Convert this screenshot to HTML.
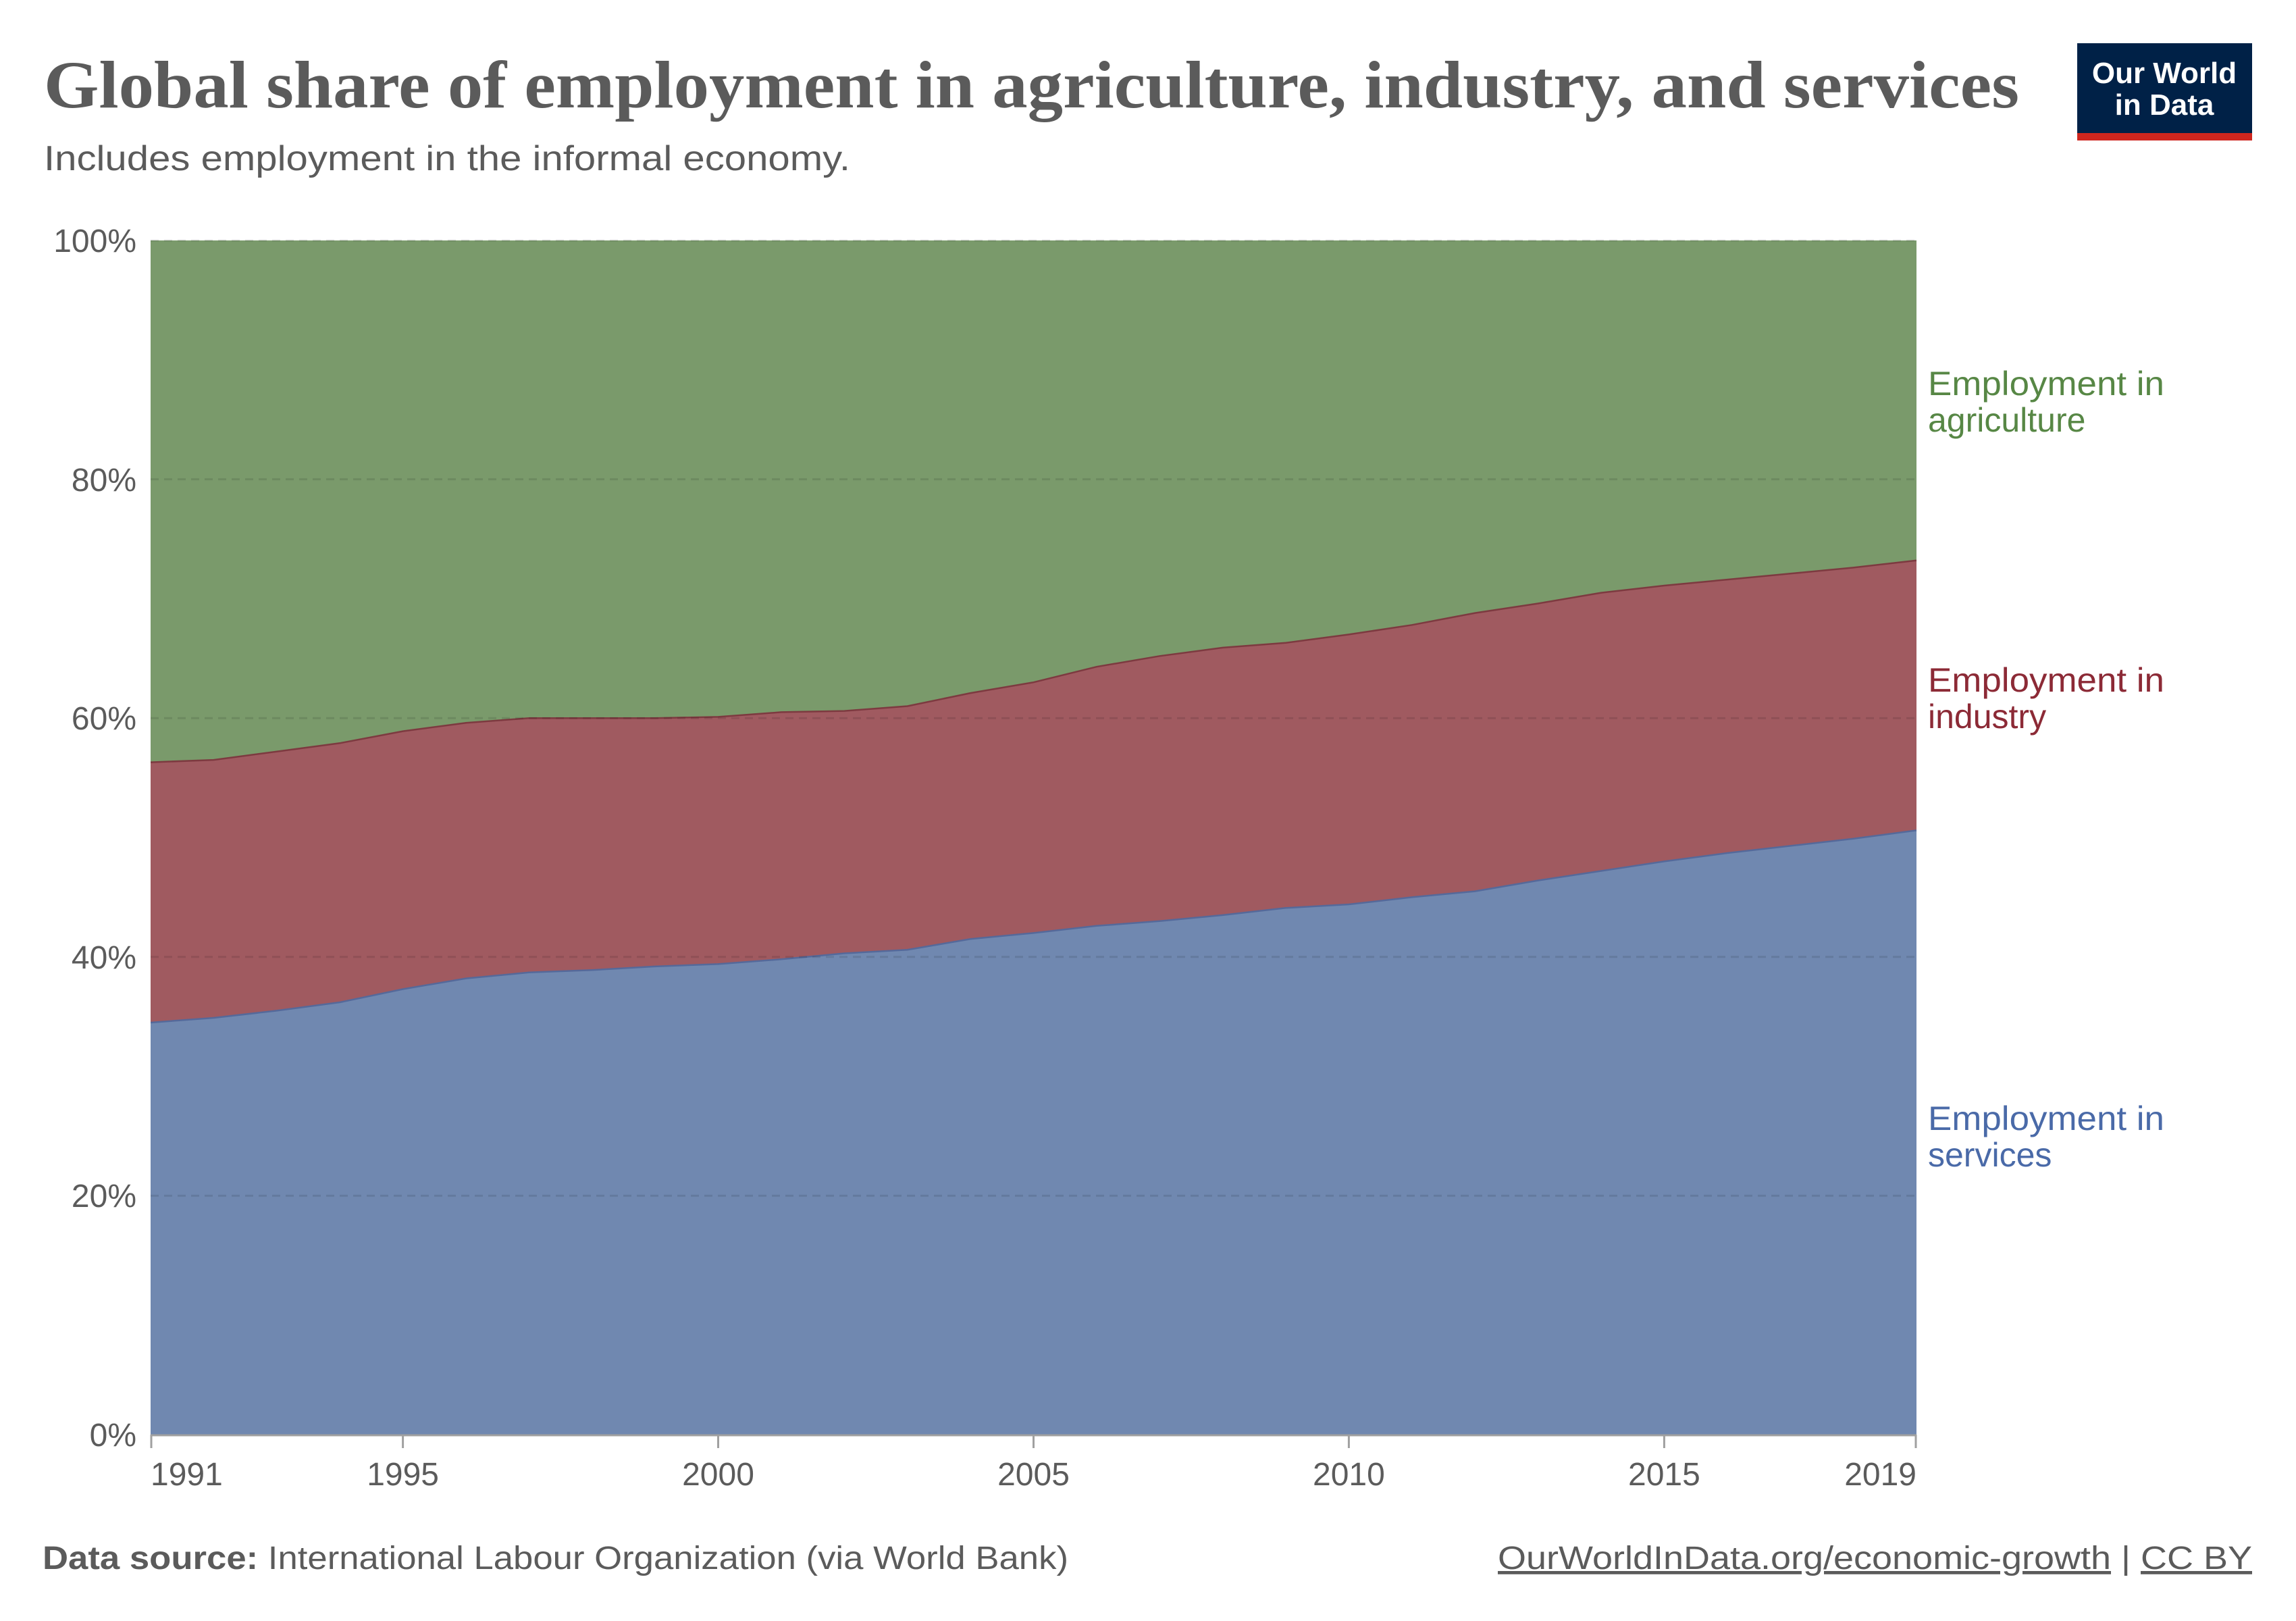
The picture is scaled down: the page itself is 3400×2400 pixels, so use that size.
<!DOCTYPE html>
<html><head><meta charset="utf-8"><style>
html,body{margin:0;padding:0;background:#fff;}
svg{display:block;}
</style></head><body>
<svg width="3400" height="2400" viewBox="0 0 3400 2400" xmlns="http://www.w3.org/2000/svg">
<rect width="3400" height="2400" fill="#fff"/>
<text x="65" y="159" font-family="Liberation Serif, serif" font-size="100" font-weight="bold" fill="#5b5b5b" textLength="2925" lengthAdjust="spacingAndGlyphs">Global share of employment in agriculture, industry, and services</text>
<text x="65" y="252" font-family="Liberation Sans, sans-serif" font-size="52" fill="#5b5b5b" textLength="1194" lengthAdjust="spacingAndGlyphs">Includes employment in the informal economy.</text>
<rect x="3076" y="64" width="259" height="144" fill="#002147"/>
<rect x="3076" y="197" width="259" height="11" fill="#ce261e"/>
<text x="3205" y="123" text-anchor="middle" font-family="Liberation Sans, sans-serif" font-size="44" font-weight="bold" fill="#fff">Our World</text>
<text x="3205" y="170" text-anchor="middle" font-family="Liberation Sans, sans-serif" font-size="44" font-weight="bold" fill="#fff">in Data</text>

<rect x="223" y="356" width="2615" height="1768" fill="#7a9a6b"/>
<path d="M223,1128.6 L316.4,1125.1 L409.8,1112.7 L503.2,1100.3 L596.6,1082.6 L690,1070.3 L783.3,1063.2 L876.7,1063.2 L970.1,1063.2 L1063.5,1061.4 L1156.9,1054.4 L1250.3,1052.6 L1343.7,1045.5 L1437.1,1026.1 L1530.5,1010.2 L1623.9,987.2 L1717.2,971.3 L1810.6,958.9 L1904,951.8 L1997.4,939.4 L2090.8,925.3 L2184.2,907.6 L2277.6,893.5 L2371,877.6 L2464.4,867 L2557.8,858.1 L2651.1,849.3 L2744.5,840.4 L2838,829.8 L2838,2124 L223,2124 Z" fill="#a05a60"/>
<path d="M223,1128.6 L316.4,1125.1 L409.8,1112.7 L503.2,1100.3 L596.6,1082.6 L690,1070.3 L783.3,1063.2 L876.7,1063.2 L970.1,1063.2 L1063.5,1061.4 L1156.9,1054.4 L1250.3,1052.6 L1343.7,1045.5 L1437.1,1026.1 L1530.5,1010.2 L1623.9,987.2 L1717.2,971.3 L1810.6,958.9 L1904,951.8 L1997.4,939.4 L2090.8,925.3 L2184.2,907.6 L2277.6,893.5 L2371,877.6 L2464.4,867 L2557.8,858.1 L2651.1,849.3 L2744.5,840.4 L2838,829.8" fill="none" stroke="#7d3a40" stroke-width="2.5"/>
<path d="M223,1514 L316.4,1507 L409.8,1496.4 L503.2,1484 L596.6,1464.5 L690,1448.6 L783.3,1439.8 L876.7,1436.2 L970.1,1430.9 L1063.5,1427.4 L1156.9,1420.3 L1250.3,1411.5 L1343.7,1406.2 L1437.1,1390.3 L1530.5,1381.4 L1623.9,1370.8 L1717.2,1363.8 L1810.6,1354.9 L1904,1344.3 L1997.4,1339 L2090.8,1328.4 L2184.2,1319.6 L2277.6,1303.6 L2371,1289.5 L2464.4,1275.4 L2557.8,1263 L2651.1,1252.4 L2744.5,1241.8 L2838,1229.4 L2838,2124 L223,2124 Z" fill="#7088b0"/>
<path d="M223,1514 L316.4,1507 L409.8,1496.4 L503.2,1484 L596.6,1464.5 L690,1448.6 L783.3,1439.8 L876.7,1436.2 L970.1,1430.9 L1063.5,1427.4 L1156.9,1420.3 L1250.3,1411.5 L1343.7,1406.2 L1437.1,1390.3 L1530.5,1381.4 L1623.9,1370.8 L1717.2,1363.8 L1810.6,1354.9 L1904,1344.3 L1997.4,1339 L2090.8,1328.4 L2184.2,1319.6 L2277.6,1303.6 L2371,1289.5 L2464.4,1275.4 L2557.8,1263 L2651.1,1252.4 L2744.5,1241.8 L2838,1229.4" fill="none" stroke="#55699a" stroke-width="2.5"/>
<g stroke="#000" stroke-opacity="0.1" stroke-width="3" stroke-dasharray="12,8">
<line x1="223" y1="356" x2="2838" y2="356"/>
<line x1="223" y1="709.6" x2="2838" y2="709.6"/>
<line x1="223" y1="1063.2" x2="2838" y2="1063.2"/>
<line x1="223" y1="1416.8" x2="2838" y2="1416.8"/>
<line x1="223" y1="1770.4" x2="2838" y2="1770.4"/>
</g>
<line x1="223" y1="2125" x2="2838" y2="2125" stroke="#a0a0a0" stroke-width="3"/>
<g stroke="#a0a0a0" stroke-width="3">
<line x1="224" y1="2124" x2="224" y2="2144"/>
<line x1="596.6" y1="2124" x2="596.6" y2="2144"/>
<line x1="1063.5" y1="2124" x2="1063.5" y2="2144"/>
<line x1="1530.5" y1="2124" x2="1530.5" y2="2144"/>
<line x1="1997.4" y1="2124" x2="1997.4" y2="2144"/>
<line x1="2464.4" y1="2124" x2="2464.4" y2="2144"/>
<line x1="2837" y1="2124" x2="2837" y2="2144"/>
</g>
<g font-family="Liberation Sans, sans-serif" font-size="48" fill="#5b5b5b" text-anchor="end">
<text x="202" y="373">100%</text>
<text x="202" y="727">80%</text>
<text x="202" y="1080">60%</text>
<text x="202" y="1434">40%</text>
<text x="202" y="1787">20%</text>
<text x="202" y="2141">0%</text>
</g>
<g font-family="Liberation Sans, sans-serif" font-size="48" fill="#5b5b5b" text-anchor="middle">
<text x="223" y="2199" text-anchor="start">1991</text>
<text x="596.6" y="2199">1995</text>
<text x="1063.5" y="2199">2000</text>
<text x="1530.5" y="2199">2005</text>
<text x="1997.4" y="2199">2010</text>
<text x="2464.4" y="2199">2015</text>
<text x="2838" y="2199" text-anchor="end">2019</text>
</g>
<g font-family="Liberation Sans, sans-serif" font-size="50">
<text x="2855" y="585" fill="#578745" textLength="350" lengthAdjust="spacingAndGlyphs">Employment in</text>
<text x="2855" y="639" fill="#578745">agriculture</text>
<text x="2855" y="1024" fill="#8c2a36" textLength="350" lengthAdjust="spacingAndGlyphs">Employment in</text>
<text x="2855" y="1078" fill="#8c2a36">industry</text>
<text x="2855" y="1673" fill="#4a6aa8" textLength="350" lengthAdjust="spacingAndGlyphs">Employment in</text>
<text x="2855" y="1727" fill="#4a6aa8">services</text>
</g>
<text x="63" y="2323" font-family="Liberation Sans, sans-serif" font-size="48" fill="#5b5b5b" textLength="1519" lengthAdjust="spacingAndGlyphs"><tspan font-weight="bold">Data source:</tspan> International Labour Organization (via World Bank)</text>
<text x="3335" y="2323" text-anchor="end" font-family="Liberation Sans, sans-serif" font-size="48" fill="#5b5b5b" textLength="1117" lengthAdjust="spacingAndGlyphs"><tspan text-decoration="underline">OurWorldInData.org/economic-growth</tspan> | <tspan text-decoration="underline">CC BY</tspan></text>
</svg>
</body></html>
